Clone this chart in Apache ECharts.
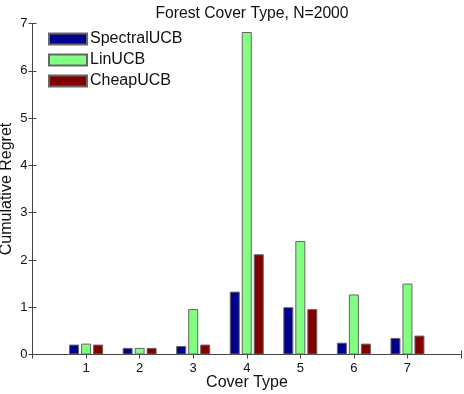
<!DOCTYPE html>
<html>
<head>
<meta charset="utf-8">
<script src="https://cdn.jsdelivr.net/npm/echarts@6/dist/echarts.min.js"></script>
<style>
  html, body { margin: 0; padding: 0; background: #fff; }
  #chart { width: 464px; height: 394px; }
</style>
</head>
<body>
<div id="chart"></div>
<script>
// cover types 1..7
const coverTypes = [1, 2, 3, 4, 5, 6, 7]
const spectralUCB = [0.21, 0.14, 0.18, 1.33, 1.00, 0.25, 0.35]
const linUCB = [0.23, 0.14, 0.96, 6.82, 2.40, 1.27, 1.50]
const cheapUCB = [0.21, 0.14, 0.21, 2.12, 0.96, 0.23, 0.40]
const seriesNames = ['SpectralUCB', 'LinUCB', 'CheapUCB']
const seriesColors = ['#00008F', '#80FF80', '#800000']

const font = 'Liberation Sans, Arial, sans-serif'
const axisColor = '#444'

function toPairs(vals) {
    return coverTypes.map((c, i) => [c, vals[i]])
}

function makeBar(name, vals, color) {
    return {
        name: name,
        type: 'bar',
        data: toPairs(vals),
        barWidth: 10,
        barGap: '20%',
        itemStyle: {color: color, borderColor: '#666', borderWidth: 1},
        emphasis: {disabled: true}
    }
}

const axisCommon = {
    axisLine: {show: true, lineStyle: {color: axisColor, width: 1}},
    axisTick: {show: true, inside: true, length: 4, lineStyle: {color: axisColor}},
    splitLine: {show: false}
}

let chart = echarts.init(document.getElementById('chart'))
chart.setOption({
    animation: false,
    backgroundColor: '#fff',
    title: {
        text: 'Forest Cover Type, N=2000',
        left: 247, top: 1, textAlign: 'center',
        textStyle: {fontFamily: font, fontSize: 15.7, fontWeight: 'normal', color: '#111'}
    },
    legend: {
        orient: 'vertical',
        left: 43, top: 26,
        itemWidth: 38, itemHeight: 11, itemGap: 5,
        icon: 'rect',
        data: seriesNames,
        textStyle: {fontFamily: font, fontSize: 16, color: '#111', padding: [0, 0, 0, -2]}
    },
    // axis titles placed by hand
    graphic: [
        {
            type: 'text', x: 247, y: 383,
            style: {text: 'Cover Type', font: '16px ' + font, fill: '#111', align: 'center', verticalAlign: 'middle'}
        },
        {
            type: 'text', x: 7, y: 189, rotation: Math.PI / 2,
            style: {text: 'Cumulative Regret', font: '16px ' + font, fill: '#111', align: 'center', verticalAlign: 'middle'}
        }
    ],
    grid: {left: 32.5, right: 3, top: 23.5, bottom: 39.5, outerBoundsMode: 'none', containLabel: false},
    xAxis: [
        Object.assign({}, axisCommon, {
            type: 'value', min: 0, max: 8, interval: 1,
            axisLabel: {
                fontFamily: font, fontSize: 13, color: '#111', margin: 7.5,
                formatter: v => (v >= 1 && v <= 7) ? String(v) : ''
            }
        }),
        Object.assign({}, axisCommon, {
            type: 'value', min: 0, max: 8, interval: 1, position: 'top',
            axisLabel: {show: false}
        })
    ],
    yAxis: [
        Object.assign({}, axisCommon, {
            type: 'value', min: 0, max: 7, interval: 1,
            axisLabel: {fontFamily: font, fontSize: 13, color: '#111', margin: 5}
        }),
        Object.assign({}, axisCommon, {
            type: 'value', min: 0, max: 7, interval: 1, position: 'right',
            axisLabel: {show: false}
        })
    ],
    series: [
        makeBar(seriesNames[0], spectralUCB, seriesColors[0]),
        makeBar(seriesNames[1], linUCB, seriesColors[1]),
        makeBar(seriesNames[2], cheapUCB, seriesColors[2])
    ]
})
</script>
</body>
</html>
